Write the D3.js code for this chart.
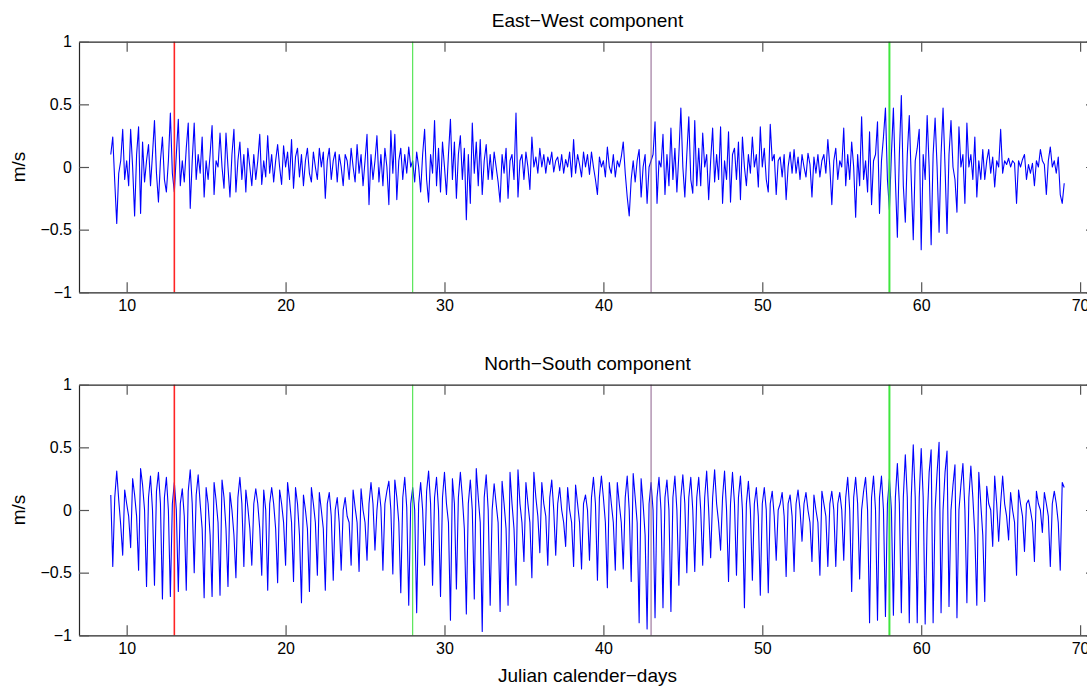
<!DOCTYPE html>
<html>
<head>
<meta charset="utf-8">
<script src="https://cdn.jsdelivr.net/npm/d3@7"></script>
<style>
  body { margin: 0; background: #fff; }
  svg { display: block; }
  text { font-family: "Liberation Sans", Arial, Helvetica, sans-serif; fill: #000; }
</style>
</head>
<body>
<svg id="chart" width="1087" height="687"></svg>
<script>
// Current-meter record, sampled every 3 hours from day 9 (m/s).
const startDay = 9;
const stepDay = 1 / 8;

const eastWest = [
  0.10, 0.24, -0.12, -0.45, -0.05, 0.05, 0.30, -0.10,
  0.05, -0.15, 0.30, 0, -0.39, 0.10, 0.32, -0.37,
  0.20, -0.12, 0.05, 0.18, -0.15, 0.10, 0.37, -0.05,
  -0.28, 0.05, 0.24, -0.10, -0.20, 0.05, 0.43, -0.05,
  -0.20, 0.10, 0.38, -0.15, 0.05, -0.12, 0.15, 0.35,
  -0.33, 0.05, 0.35, -0.10, 0.10, -0.05, 0.24, -0.24,
  0.05, -0.10, 0.10, 0.33, -0.22, 0.05, 0, 0.27,
  0, -0.17, 0.27, 0, -0.24, 0.10, 0.30, -0.20,
  0.05, 0.20, -0.10, 0.10, -0.20, 0.15, 0, -0.15,
  0.10, -0.10, 0.05, 0.26, -0.14, 0.05, -0.08, 0.25,
  -0.05, 0.10, -0.12, 0.05, 0.18, 0, -0.14, 0.17,
  0, 0.12, -0.10, 0.22, -0.17, 0.08, 0.15, -0.08,
  0.10, -0.15, 0.05, 0.15, -0.05, -0.12, 0.12, 0,
  -0.10, 0.15, 0, 0.12, -0.25, 0.05, 0.15, -0.10,
  0.05, 0.12, -0.12, 0.10, 0, -0.15, 0.10, 0.05,
  -0.10, 0.15, 0, -0.12, 0.18, -0.05, 0.10, -0.15,
  0.05, 0.26, -0.30, 0.10, -0.10, 0.05, 0.25, -0.12,
  0.10, -0.15, 0.15, 0, -0.30, 0.29, -0.05, 0.26,
  -0.26, 0.05, 0.15, -0.10, 0.10, -0.05, 0.16, 0,
  0.05, -0.12, 0.12, 0, -0.20, 0.10, 0.30, -0.10,
  -0.28, 0.10, -0.05, 0.37, -0.15, 0.15, -0.20, 0.20,
  0, -0.22, 0.10, 0.38, -0.10, 0.20, -0.25, 0.10,
  0.25, -0.10, 0.15, -0.42, 0.10, -0.29, 0.35, -0.05,
  0.20, -0.15, 0.22, -0.22, 0.05, 0.18, -0.10, 0.10,
  -0.10, 0.12, 0, -0.12, -0.28, 0.10, -0.05, 0.15,
  -0.25, 0.05, 0.10, -0.10, 0.43, -0.24, 0.05, 0.10,
  -0.10, 0.12, 0, -0.18, 0.24, 0, 0.08, -0.05,
  0.15, 0, 0.10, -0.05, 0.08, 0.02, 0.12, -0.04,
  0.05, 0.08, -0.03, 0.10, -0.05, 0.06, 0, 0.12,
  -0.08, 0.22, -0.05, 0.10, 0.02, -0.08, 0.12, 0,
  0.10, -0.06, 0.12, 0, -0.10, -0.22, 0.08, 0,
  0.05, -0.08, 0.16, 0, -0.05, 0.10, -0.08, 0.05,
  0, 0.08, 0.20, -0.05, -0.24, -0.39, -0.10, 0.05,
  -0.12, 0.05, 0.14, -0.24, 0, 0.10, -0.29, 0,
  0.05, 0.10, 0.36, -0.29, 0.05, 0, 0.26, -0.22,
  0.10, -0.15, 0.31, -0.10, 0.15, -0.20, 0.10, 0.47,
  0, -0.24, 0.10, 0.40, -0.10, -0.21, 0.37, -0.15,
  0.15, -0.15, 0.27, 0, 0.10, -0.26, 0.05, 0.31,
  -0.12, 0.10, -0.10, 0.32, -0.29, 0.05, -0.10, 0.28,
  -0.28, 0.10, 0.15, -0.10, 0.20, -0.26, 0.24, 0,
  -0.15, 0.10, -0.05, 0.24, 0, 0.10, -0.16, 0.32,
  0, 0.15, -0.10, -0.20, 0.34, 0.05, 0.10, -0.22,
  0.05, 0.08, -0.08, 0.10, -0.26, 0, 0.12, -0.05,
  0.14, -0.05, 0.08, -0.10, 0.10, 0, -0.08, 0.11,
  0.02, -0.24, 0.08, -0.05, 0.10, -0.08, 0.05, 0.10,
  -0.05, 0.22, 0, -0.30, 0.05, 0.15, -0.10, 0.05,
  0, 0.31, -0.15, 0.10, -0.10, 0.20, 0, -0.40,
  0.10, -0.15, 0.40, -0.10, 0.05, -0.20, 0.28, -0.30,
  0.05, 0.10, 0.36, -0.37, 0.05, 0.24, 0.47, -0.10,
  -0.34, 0.10, 0.47, -0.10, -0.56, 0.10, 0.57, -0.15,
  -0.44, 0.10, 0.41, -0.10, -0.58, 0.05, 0.15, 0.30,
  -0.66, 0.10, -0.10, 0.41, 0, -0.62, 0.10, 0.39,
  0, -0.52, 0.10, 0.47, 0, -0.53, 0.10, 0.37,
  0, -0.10, -0.36, 0.32, 0, 0.10, -0.29, 0.35,
  0, 0.10, -0.10, 0.24, -0.24, 0.05, -0.10, 0.14,
  -0.10, 0.05, 0.14, -0.05, 0.08, -0.16, 0.05, 0,
  0.30, -0.05, 0.05, 0.02, 0.07, 0, 0.05, 0.03,
  -0.29, 0.05, 0, 0.06, 0.10, -0.10, 0.02, -0.05,
  0.03, -0.15, 0.05, 0, 0.14, 0.05, 0.02, -0.22,
  0.05, 0.16, 0, 0.05, -0.05, 0.08, -0.22, -0.29,
  -0.13
];

const northSouth = [
  0.12, -0.45, 0.10, 0.31, 0.08, -0.12, -0.36, 0.16,
  0.05, -0.05, -0.30, 0.25, 0.12, -0.05, -0.48, 0.33,
  0.20, 0, -0.61, 0.10, 0.27, 0, -0.60, 0.15,
  0.30, 0.05, -0.71, 0.10, 0.26, 0, -0.69, 0.05,
  0.22, 0, -0.65, 0.05, 0.17, -0.05, -0.64, 0.15,
  0.32, 0.05, -0.50, 0.12, 0.28, 0.05, -0.15, -0.70,
  0.18, 0.05, -0.20, -0.69, 0.22, 0.08, -0.10, -0.68,
  0.24, 0.10, -0.15, -0.61, 0.14, 0, -0.20, -0.54,
  0.10, 0.26, 0.05, -0.45, 0.16, 0.02, -0.15, -0.44,
  0.05, 0.17, 0.05, -0.15, -0.52, 0.16, 0, -0.64,
  0.05, 0.18, 0.05, -0.15, -0.58, 0.16, 0.05, -0.10,
  -0.44, 0.22, 0.08, -0.10, -0.57, 0.18, 0.05, -0.20,
  -0.74, 0.12, 0, -0.15, -0.65, 0.18, 0.05, -0.10,
  -0.52, 0.14, 0, -0.15, -0.64, 0.05, 0.14, -0.05,
  -0.56, 0, 0.10, -0.10, -0.48, 0, 0.10, -0.05,
  -0.10, -0.44, 0.16, 0.02, -0.10, -0.49, 0.17, 0,
  -0.10, -0.40, 0.05, 0.22, 0.05, -0.32, 0, 0.18,
  0.02, -0.48, 0.05, 0.15, 0.23, 0, -0.51, 0.24,
  0.10, -0.10, -0.66, 0.10, 0.26, 0.02, -0.76, 0.05,
  0.18, 0, -0.82, 0.05, 0.22, 0, -0.44, 0.15,
  0.31, 0.05, -0.60, 0.10, 0.26, 0, -0.69, 0.10,
  0.30, 0.05, -0.10, -0.88, 0.25, 0.05, -0.63, 0.10,
  0.30, 0.10, -0.15, -0.83, 0.05, 0.24, 0, -0.71,
  0.33, 0.10, -0.10, -0.97, 0.10, 0.28, 0, -0.76,
  0, 0.21, 0.05, -0.10, -0.81, 0.23, 0.05, -0.15,
  -0.76, 0.30, 0.05, -0.15, -0.60, 0.32, 0.05, -0.10,
  -0.41, 0.22, 0.05, -0.10, -0.54, 0.30, 0.10, -0.05,
  -0.34, 0.22, 0.05, -0.05, -0.44, 0.10, 0.24, 0,
  -0.36, 0.05, 0.18, 0, -0.10, -0.29, 0.18, 0,
  -0.10, -0.45, 0.20, 0.05, -0.10, -0.47, 0.05, 0.12,
  0, -0.40, 0.10, 0.26, 0.05, -0.56, 0.10, 0.27,
  0.10, -0.10, -0.62, 0.22, 0.05, -0.10, -0.48, 0.22,
  0.05, -0.10, -0.47, 0.10, 0.27, 0, -0.57, 0.29,
  0.10, -0.10, -0.90, 0.25, 0.05, -0.20, -0.95, 0.05,
  0.22, 0, -0.86, 0.10, 0.26, 0, -0.78, 0.10,
  0.24, 0, -0.81, 0.10, 0.27, 0, -0.60, 0.10,
  0.28, 0.05, -0.50, 0.10, 0.26, 0, -0.49, 0.10,
  0.26, 0, -0.44, 0.10, 0.31, 0, -0.38, 0.10,
  0.32, 0.05, -0.10, -0.32, 0.10, 0.31, 0, -0.57,
  0.05, 0.30, 0.05, -0.52, 0.10, 0.27, 0, -0.78,
  0.05, 0.23, 0, -0.56, 0.05, 0.18, -0.05, -0.68,
  0.05, 0.18, 0, -0.66, 0.05, 0.15, -0.05, -0.40,
  0, 0.05, 0.14, -0.05, -0.53, 0.05, 0.12, -0.05,
  -0.49, 0.05, 0.16, 0, -0.25, 0.05, 0.14, 0,
  -0.10, -0.41, 0.12, 0, -0.10, -0.52, 0.15, 0.05,
  -0.05, -0.45, 0.05, 0.15, 0, -0.45, 0.05, 0.14,
  0, -0.40, 0.10, 0.26, 0, -0.65, 0.10, 0.26,
  0.05, -0.55, 0, 0.15, 0.26, 0, -0.90, 0.10,
  0.27, 0, -0.88, 0.10, 0.27, 0, -0.85, 0.05,
  0.25, 0, -0.84, 0.10, 0.37, 0.05, -0.82, 0.10,
  0.44, 0.10, -0.90, 0.10, 0.52, 0.10, -0.90, 0.10,
  0.49, 0.10, -0.91, -0.10, 0.30, 0.48, -0.90, 0,
  0.30, 0.54, -0.82, 0, 0.30, 0.47, -0.77, 0,
  0.20, 0.36, -0.86, 0, 0.20, 0.37, 0, -0.74,
  0.10, 0.35, 0.10, -0.20, -0.76, 0.30, 0.05, -0.20,
  -0.73, 0.19, 0.05, 0, -0.29, 0.27, 0.05, -0.25,
  0.05, 0.27, 0.05, -0.05, -0.24, 0.14, 0, -0.10,
  -0.52, 0.16, 0.05, -0.05, -0.33, 0.05, 0.08, 0,
  -0.10, -0.41, 0.15, 0.05, 0, -0.18, 0.14, 0.05,
  -0.05, -0.45, 0.05, 0.15, 0.05, -0.10, -0.48, 0.22,
  0.18
];

// Reference days marked by vertical lines
const markerDays = [13, 28, 43, 58];
const markerColors = ["#ff2424", "#36e036", "#8c5f8c", "#3ee63e"];
const markerWidths = [1.6, 1, 1, 2];

const xTicks = [10, 20, 30, 40, 50, 60, 70];
const yTicks = [-1, -0.5, 0, 0.5, 1];
const panelTitles = ["East\u2212West component", "North\u2212South component"];
const yLabel = "m/s";
const xLabel = "Julian calender\u2212days";

const svg = d3.select("#chart");
const left = 79, right = 1096;
const panelTops = [41.7, 384.7];
const panelHeight = 250.6;
const panels = [eastWest, northSouth];
const labelSize = 19;

const x = d3.scaleLinear().domain([7, 71]).range([left, right]);
const fmt = d3.format("");

panels.forEach((series, p) => {
  const top = panelTops[p], bottom = top + panelHeight;
  const y = d3.scaleLinear().domain([-1, 1]).range([bottom, top]);
  const g = svg.append("g");

  // data trace
  const line = d3.line()
    .x((d, i) => x(startDay + i * stepDay))
    .y(d => y(d));
  g.append("path")
    .datum(series)
    .attr("fill", "none")
    .attr("stroke", "#0000ff")
    .attr("stroke-width", 1.1)
    .attr("stroke-linejoin", "round")
    .attr("d", line);

  // marker lines
  g.selectAll("line.marker")
    .data(markerDays)
    .join("line")
    .attr("class", "marker")
    .attr("x1", d => x(d)).attr("x2", d => x(d))
    .attr("y1", top).attr("y2", bottom)
    .attr("stroke", (d, i) => markerColors[i])
    .attr("stroke-width", (d, i) => markerWidths[i]);

  // axes: box with inward ticks on all four sides
  const tickLen = 10;
  const axB = g.append("g").attr("transform", `translate(0,${bottom})`)
    .call(d3.axisBottom(x).tickValues(xTicks).tickFormat(fmt)
      .tickSizeInner(-tickLen).tickSizeOuter(0).tickPadding(7));
  const axT = g.append("g").attr("transform", `translate(0,${top})`)
    .call(d3.axisTop(x).tickValues(xTicks).tickFormat("")
      .tickSizeInner(-tickLen).tickSizeOuter(0));
  const axL = g.append("g").attr("transform", `translate(${left},0)`)
    .call(d3.axisLeft(y).tickValues(yTicks).tickFormat(fmt)
      .tickSizeInner(-tickLen).tickSizeOuter(0).tickPadding(7));
  const axR = g.append("g").attr("transform", `translate(${right},0)`)
    .call(d3.axisRight(y).tickValues(yTicks).tickFormat("")
      .tickSizeInner(-tickLen).tickSizeOuter(0));

  [axB, axT, axL, axR].forEach(a => {
    a.select(".domain").attr("stroke", "#262626").attr("stroke-width", 1.2);
    a.selectAll(".tick line").attr("stroke", "#555").attr("stroke-width", 1.2);
    a.selectAll("text").attr("font-size", 16).attr("fill", "#000")
      .attr("font-family", "'Liberation Sans', Arial, sans-serif");
  });

  // title
  g.append("text")
    .attr("x", (left + right) / 2)
    .attr("y", top - 15)
    .attr("text-anchor", "middle")
    .attr("font-size", labelSize)
    .text(panelTitles[p]);

  // y label
  g.append("text")
    .attr("transform", `translate(25,${(top + bottom) / 2}) rotate(-90)`)
    .attr("text-anchor", "middle")
    .attr("font-size", labelSize)
    .text(yLabel);
});

svg.append("text")
  .attr("x", (left + right) / 2)
  .attr("y", 682)
  .attr("text-anchor", "middle")
  .attr("font-size", labelSize)
  .text(xLabel);
</script>
</body>
</html>
